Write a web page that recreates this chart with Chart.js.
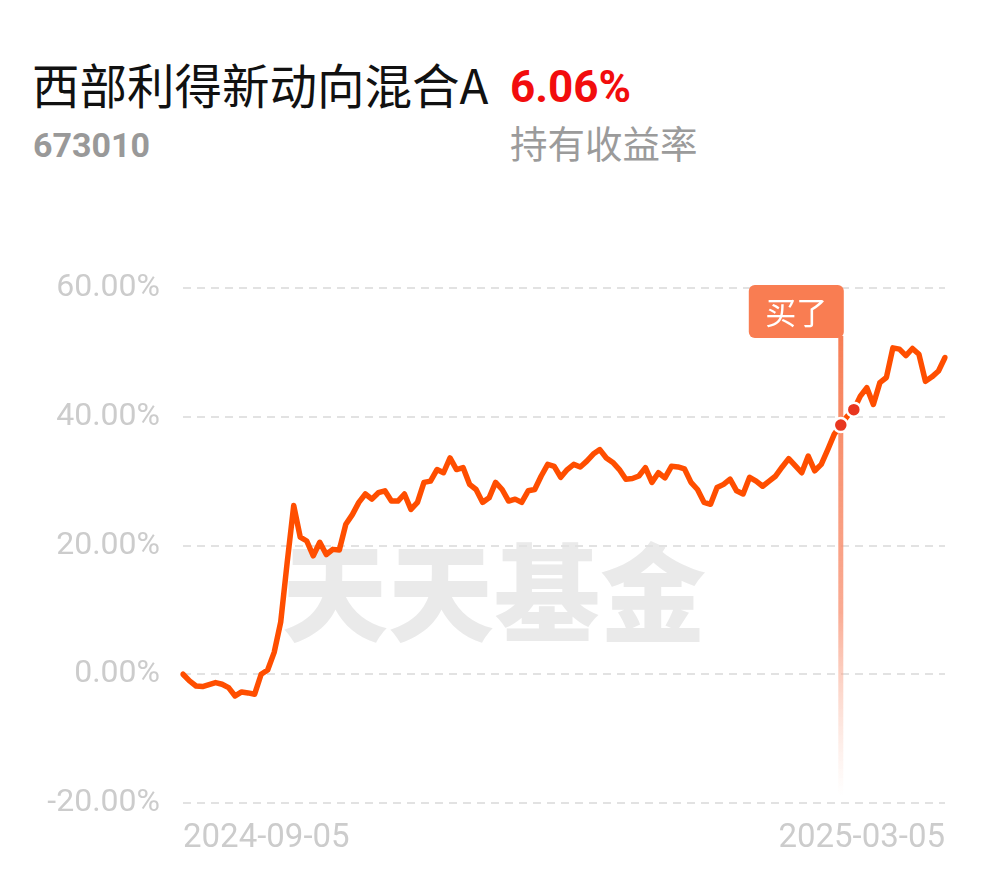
<!DOCTYPE html>
<html>
<head>
<meta charset="utf-8">
<script src="https://cdn.jsdelivr.net/npm/chart.js@4"></script>
<style>
  body { margin: 0; background: #fff; width: 990px; height: 878px; overflow: hidden; position: relative; }
  .txt { position: absolute; line-height: 1; white-space: nowrap; }
  #title { left: 32px; top: 49px; font: 47.5px "Noto Sans CJK SC"; color: #111; }
  #rate { left: 510px; top: 61px; font: bold 44px Roboto; color: #f20d0d; }
  #code { left: 33px; top: 125px; font: bold 34px Roboto; color: #999; }
  #rateLabel { left: 510px; top: 114px; font: 37.5px "Noto Sans CJK SC"; color: #9b9b9b; }
  #mark { left: 282px; top: 510px; font: 900 106px "Noto Sans CJK SC"; color: #eaeaea; }
  #wrap { position: absolute; left: 0; top: 0; width: 990px; height: 878px; }
</style>
</head>
<body>
<div class="txt" id="title">西部利得新动向混合A</div>
<div class="txt" id="rate">6.06%</div>
<div class="txt" id="code">673010</div>
<div class="txt" id="rateLabel">持有收益率</div>
<div class="txt" id="mark">天天基金</div>
<div id="wrap"><canvas id="fundChart"></canvas></div>
<script>
// 持有收益率 (%), one value per trading day
const returns = [
  0, -1.04, -1.82, -1.91, -1.6, -1.29, -1.55, -2.07, -3.37, -2.75,
  -2.9, -3.1, 0, 0.67, 3.4, 8.1, 17.4, 26.2, 21.3, 20.7,
  18.4, 20.5, 18.6, 19.4, 19.3, 23.3, 24.8, 26.7, 28.0, 27.2,
  28.2, 28.5, 26.9, 26.9, 28.0, 25.6, 26.7, 29.8, 30.0, 31.8,
  31.3, 33.6, 31.8, 32.1, 29.5, 28.7, 26.7, 27.4, 29.8, 28.7,
  26.9, 27.2, 26.7, 28.5, 28.7, 30.8, 32.6, 32.3, 30.6, 31.8,
  32.6, 32.2, 33.1, 34.2, 34.9, 33.6, 32.9, 31.8, 30.3, 30.4,
  30.8, 32.1, 29.8, 31.3, 30.5, 32.3, 32.2, 31.9, 29.8, 28.7,
  26.7, 26.4, 29.0, 29.5, 30.3, 28.5, 28.0, 30.6, 30.0, 29.2,
  30.0, 30.8, 32.2, 33.5, 32.4, 31.3, 33.9, 31.6, 32.6, 34.9,
  37.3, 38.7, 40.1, 41.1, 43.2, 44.5, 41.9, 45.3, 46.1, 50.7,
  50.5, 49.5, 50.6, 49.7, 45.5, 46.2, 47.1, 49.2
];
const days = returns.map((_, i) => i);
const dateTicks = ['2024-09-05', '2025-03-05'];
const yTicks = [-20, 0, 20, 40, 60];
const buyPoints = [101, 103];
const buyText = '买了';

const lineColor = '#ff4e00';
const labelColor = '#cccccc';

// "买了" flag and fading line at the first buy point
const buyMark = {
  id: 'buyMark',
  beforeDatasetsDraw(chart) {
    const ctx = chart.ctx;
    const area = chart.chartArea;
    const pt = chart.getDatasetMeta(0).data[buyPoints[0]];
    const x = pt.x;
    const boxTop = area.top - 3;
    const boxH = 53;
    const boxW = 95;

    ctx.save();
    const grad = ctx.createLinearGradient(0, boxTop + boxH, 0, area.bottom - 8);
    grad.addColorStop(0, 'rgba(247,126,85,1)');
    grad.addColorStop(0.6, 'rgba(249,150,120,0.8)');
    grad.addColorStop(1, 'rgba(250,190,170,0)');
    ctx.fillStyle = grad;
    ctx.fillRect(x - 2.5, boxTop + boxH - 2, 5, area.bottom - 8 - boxTop - boxH + 2);

    ctx.fillStyle = '#f97d52';
    ctx.beginPath();
    ctx.roundRect(x + 3 - boxW, boxTop, boxW, boxH, 6);
    ctx.fill();

    ctx.fillStyle = '#fff';
    ctx.font = '31px "Noto Sans CJK SC"';
    ctx.textAlign = 'center';
    ctx.textBaseline = 'middle';
    ctx.fillText(buyText, x + 3 - boxW / 2, boxTop + boxH / 2 + 1);
    ctx.restore();
  }
};

new Chart(document.getElementById('fundChart'), {
  type: 'line',
  data: {
    labels: days,
    datasets: [{
      data: returns,
      borderColor: lineColor,
      borderWidth: 5.5,
      borderJoinStyle: 'round',
      borderCapStyle: 'round',
      tension: 0,
      fill: false,
      pointRadius: (c) => buyPoints.includes(c.dataIndex) ? 7 : 0,
      pointBackgroundColor: '#e8361f',
      pointBorderColor: '#ffffff',
      pointBorderWidth: 2.5
    }]
  },
  options: {
    responsive: true,
    maintainAspectRatio: false,
    animation: false,
    events: [],
    layout: { padding: { top: 288, right: 45, bottom: 0, left: 0 } },
    plugins: { legend: { display: false }, tooltip: { enabled: false } },
    scales: {
      x: {
        grid: { display: false, drawTicks: false },
        border: { display: false },
        afterFit: (s) => { s.height = 75; },
        ticks: {
          autoSkip: false,
          maxRotation: 0,
          align: 'inner',
          padding: 16,
          color: labelColor,
          font: { family: 'Roboto', size: 33 },
          callback: (v, i, t) => i === 0 ? dateTicks[0] : (i === t.length - 1 ? dateTicks[1] : '')
        }
      },
      y: {
        min: yTicks[0],
        max: yTicks[yTicks.length - 1],
        afterFit: (s) => { s.width = 183; },
        afterBuildTicks: (s) => { s.ticks = yTicks.map(v => ({ value: v })); },
        border: { display: false, dash: [8, 6] },
        grid: { color: '#e2e2e2', lineWidth: 2, drawTicks: false },
        ticks: {
          padding: 23,
          color: labelColor,
          font: { family: 'Roboto', size: 32 },
          callback: (v) => v.toFixed(2) + '%'
        }
      }
    }
  },
  plugins: [buyMark]
});
</script>
</body>
</html>
